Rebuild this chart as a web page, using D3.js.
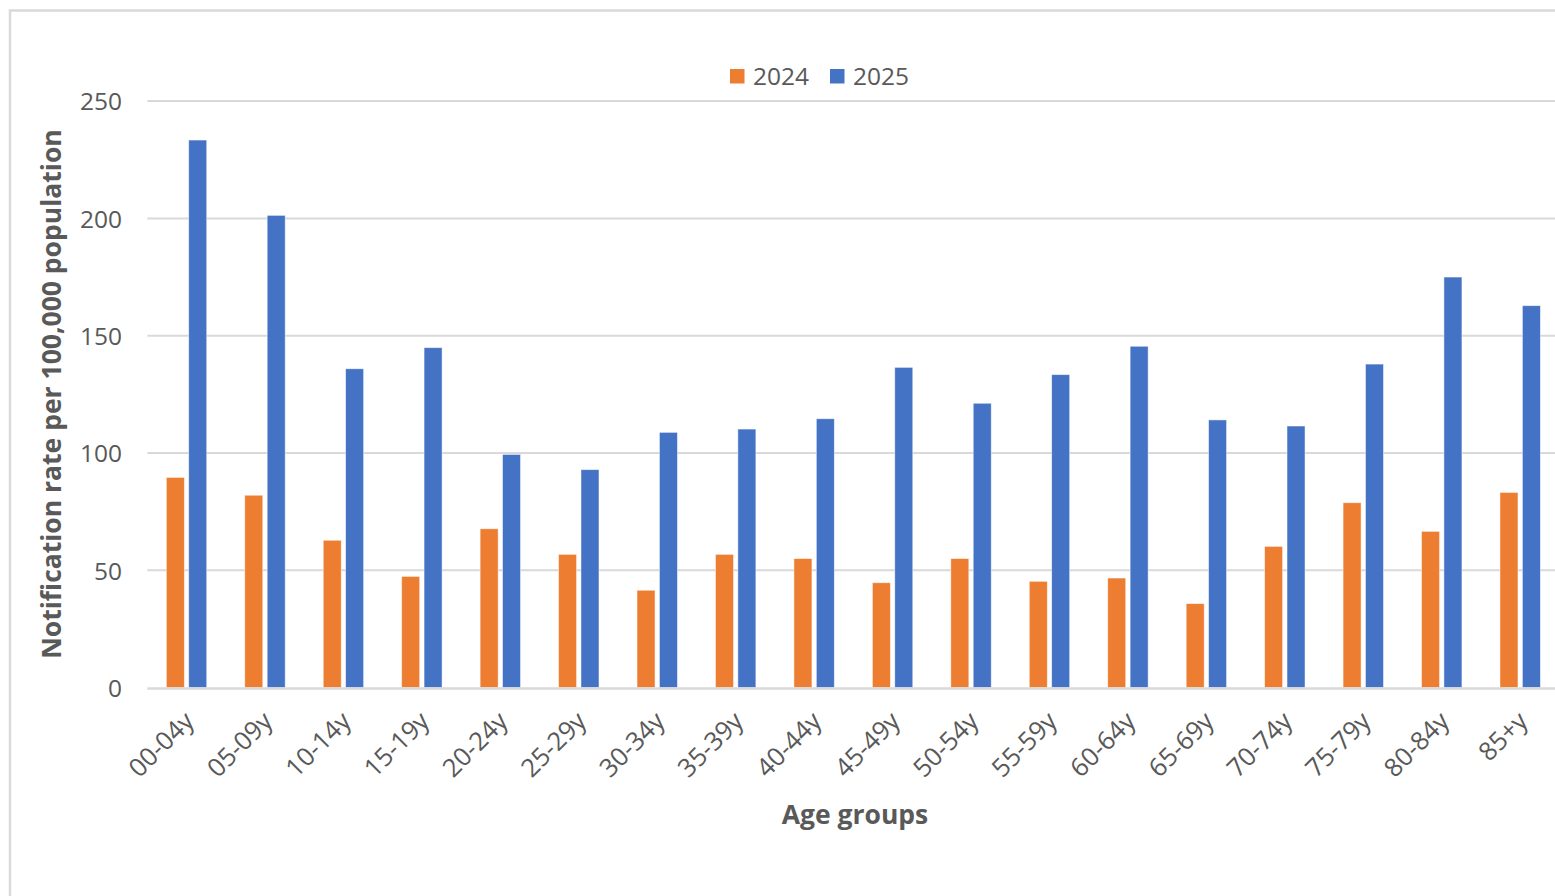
<!DOCTYPE html>
<html>
<head>
<meta charset="utf-8">
<script src="https://cdn.jsdelivr.net/npm/d3@7"></script>
<style>
  html, body { margin: 0; padding: 0; background: #ffffff; }
  svg { display: block; font-family: "Open Sans", "Noto Sans", sans-serif; }
</style>
</head>
<body>
<svg id="chart" width="1555" height="896"></svg>
<script>
// Age groups on the x axis
const categories = ["00-04y", "05-09y", "10-14y", "15-19y", "20-24y", "25-29y",
  "30-34y", "35-39y", "40-44y", "45-49y", "50-54y", "55-59y",
  "60-64y", "65-69y", "70-74y", "75-79y", "80-84y", "85+y"];

// Notification rate per 100,000 population
const series = ["2024", "2025"];
const values2024 = [89.6, 82.0, 62.8, 47.4, 67.7, 56.8, 41.5, 56.8, 55.0,
  44.7, 55.0, 45.3, 46.7, 35.8, 60.2, 78.8, 66.6, 83.2];
const values2025 = [233.4, 201.3, 135.9, 144.9, 99.4, 92.9, 108.8, 110.2, 114.6,
  136.5, 121.2, 133.4, 145.5, 114.1, 111.5, 137.9, 175.0, 162.8];

const yTicks = [0, 50, 100, 150, 200, 250];

const colors = { "2024": "#ED7D31", "2025": "#4472C4" };
const textColor = "#595959";
const gridColor = "#D9D9D9";

const svg = d3.select("#chart");

// Chart frame
svg.append("rect")
  .attr("x", 10).attr("y", 10.5)
  .attr("width", 1600).attr("height", 960)
  .attr("fill", "#ffffff")
  .attr("stroke", gridColor).attr("stroke-width", 2.5);

const plot = { left: 147.3, right: 1559.4, top: 101.1, bottom: 687.6 };

const x0 = d3.scaleBand().domain(categories).range([plot.left, plot.right]).padding(0);
const groupWidth = 40.4;
const x1 = d3.scaleBand().domain(series).range([0, groupWidth]).paddingInner(0.196).paddingOuter(0);
const y = d3.scaleLinear().domain([0, 250]).range([plot.bottom, plot.top]);

// Horizontal gridlines
svg.append("g").selectAll("line")
  .data(yTicks.filter(t => t !== 0))
  .join("line")
  .attr("x1", plot.left).attr("x2", plot.right)
  .attr("y1", d => y(d)).attr("y2", d => y(d))
  .attr("stroke", gridColor).attr("stroke-width", 2);

// Y tick labels
const yAxis = d3.axisLeft(y).tickValues(yTicks).tickSize(0).tickPadding(0);
const gy = svg.append("g").attr("transform", "translate(122,0)").call(yAxis);
gy.select(".domain").remove();
gy.selectAll("text")
  .attr("fill", textColor)
  .attr("font-size", "24.5px")
  .attr("font-family", "\"Open Sans\", sans-serif")
  .attr("dy", "0.36em");

// Bars
const rows = categories.map((c, i) => ({ cat: c, vals: [
  { s: "2024", v: values2024[i] }, { s: "2025", v: values2025[i] }] }));

const groups = svg.append("g").selectAll("g")
  .data(rows)
  .join("g")
  .attr("transform", d => `translate(${x0(d.cat) + (x0.bandwidth() - groupWidth) / 2},0)`);

groups.selectAll("rect")
  .data(d => d.vals)
  .join("rect")
  .attr("x", d => x1(d.s))
  .attr("width", x1.bandwidth())
  .attr("y", d => y(d.v))
  .attr("height", d => y(0) - y(d.v))
  .attr("fill", d => colors[d.s])
  .attr("stroke", "#ffffff").attr("stroke-opacity", 0.6).attr("stroke-width", 0.8);

// Baseline axis
svg.append("line")
  .attr("x1", plot.left).attr("x2", plot.right)
  .attr("y1", y(0) + 1).attr("y2", y(0) + 1)
  .attr("stroke", gridColor).attr("stroke-width", 2.5);

// X tick labels (rotated)
const xAxis = d3.axisBottom(x0).tickSize(0).tickPadding(0);
const gx = svg.append("g").attr("transform", `translate(0,${y(0)})`).call(xAxis);
gx.select(".domain").remove();
gx.selectAll("text")
  .attr("fill", textColor)
  .attr("font-size", "25.5px")
  .attr("font-family", "\"Open Sans\", sans-serif")
  .attr("text-anchor", "end")
  .attr("dy", null).attr("y", null)
  .attr("transform", "translate(9,35) rotate(-45)");

// Axis titles
svg.append("text")
  .attr("x", 855).attr("y", 824)
  .attr("text-anchor", "middle")
  .attr("font-size", "26.5px").attr("font-weight", "bold")
  .attr("fill", textColor)
  .text("Age groups");

svg.append("text")
  .attr("transform", "translate(61,394) rotate(-90)")
  .attr("text-anchor", "middle")
  .attr("font-size", "26.5px").attr("font-weight", "bold")
  .attr("fill", textColor)
  .text("Notification rate per 100,000 population");

// Legend
const legend = svg.append("g").selectAll("g")
  .data(series)
  .join("g")
  .attr("transform", (d, i) => `translate(${730 + i * 100},69)`);
legend.append("rect")
  .attr("width", 14.5).attr("height", 14.5)
  .attr("fill", d => colors[d]);
legend.append("text")
  .attr("x", 23).attr("y", 15.5)
  .attr("font-size", "24.5px")
  .attr("fill", textColor)
  .text(d => d);
</script>
</body>
</html>
